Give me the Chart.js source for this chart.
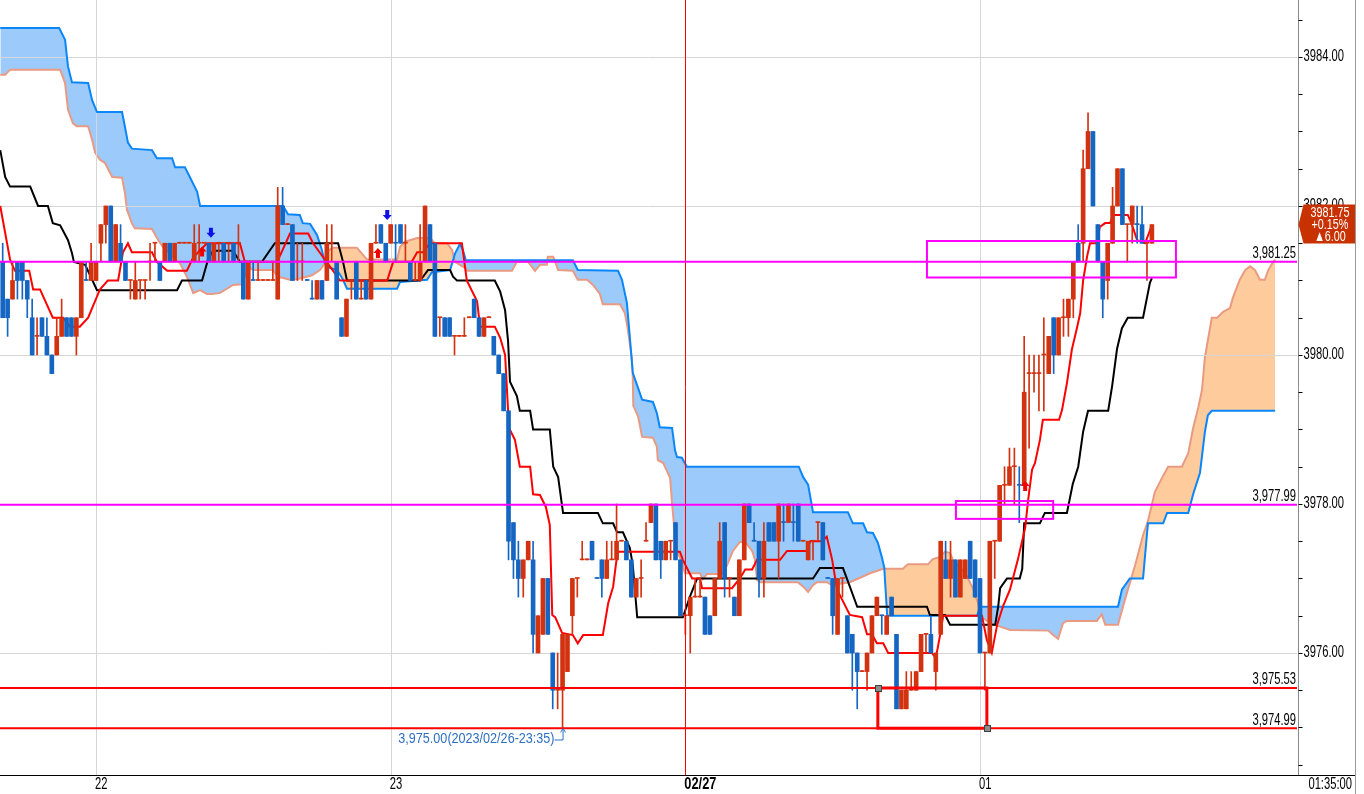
<!DOCTYPE html>
<html>
<head>
<meta charset="utf-8">
<script src="https://cdn.jsdelivr.net/npm/chart.js@4.4.0/dist/chart.umd.min.js"></script>
<style>
html, body { margin: 0; padding: 0; background: #fff; overflow: hidden; }
canvas { display: block; }
</style>
</head>
<body>
<canvas id="chart" width="1364" height="794"></canvas>
<script>
// 1-minute bars, minutes counted from 22:00 (02/26)
const firstMinute = -19;
const opens = [
  3981.25, 3980.75, 3980.75, 3981.25, 3981.25, 3981.0, 3980.5, 3980.25, 3980.5, 3980.25,
  3980.0, 3980.0, 3980.25, 3980.5, 3980.5, 3980.25, 3980.5, 3981.0, 3981.0, 3981.0,
  3981.5, 3981.75, 3982.0, 3981.25, 3981.5, 3981.25, 3981.0, 3980.75, 3981.0, 3981.0,
  3981.25, 3981.5, 3981.25, 3981.25, 3981.5, 3981.25, 3981.5, 3981.5, 3981.5, 3981.25,
  3981.5, 3981.5, 3981.5, 3981.25, 3981.5, 3981.5, 3981.5, 3981.5, 3981.5, 3981.25,
  3980.75, 3981.0, 3981.0, 3981.0, 3981.0, 3981.0, 3980.75, 3982.0, 3981.75, 3981.75,
  3981.25, 3981.25, 3981.0, 3980.75, 3980.75, 3981.0, 3981.0, 3981.5, 3981.25, 3980.5,
  3980.25, 3981.0, 3981.25, 3980.75, 3981.0, 3980.75, 3981.5, 3981.75, 3981.5, 3981.5,
  3981.5, 3981.75, 3981.5, 3981.25, 3981.0, 3981.0, 3981.25, 3981.75, 3981.5, 3980.5,
  3980.5, 3980.5, 3980.25, 3980.25, 3980.25, 3980.5, 3980.75, 3980.5, 3980.25, 3980.5,
  3980.25, 3980.0, 3979.75, 3979.25, 3977.75, 3977.25, 3977.0, 3977.25, 3977.25, 3976.0,
  3976.25, 3977.0, 3976.0, 3975.5, 3975.5, 3975.75, 3976.5, 3977.0, 3977.25, 3977.25,
  3977.5, 3977.0, 3977.25, 3977.0, 3977.25, 3977.25, 3977.5, 3977.5, 3977.25, 3976.75,
  3977.0, 3977.5, 3977.75, 3978.0, 3977.5, 3977.25, 3977.5, 3977.75, 3977.25, 3976.5,
  3976.5, 3976.75, 3976.75, 3976.75, 3976.5, 3976.5, 3977.0, 3977.75, 3977.0, 3976.75,
  3976.5, 3977.25, 3978.0, 3977.5, 3977.5, 3977.0, 3977.75, 3977.75, 3977.5, 3977.75,
  3977.75, 3977.75, 3978.0, 3977.5, 3977.25, 3977.5, 3977.75, 3977.75, 3977.0, 3977.0,
  3976.25, 3977.0, 3976.5, 3976.25, 3976.0, 3975.75, 3975.75, 3976.0, 3976.5, 3976.5,
  3976.25, 3976.75, 3976.25, 3975.25, 3975.25, 3975.5, 3975.5, 3975.75, 3976.25, 3976.25,
  3975.75, 3976.25, 3977.25, 3977.0, 3977.25, 3976.75, 3977.0, 3977.5, 3977.25, 3977.0,
  3976.0, 3976.0, 3977.5, 3977.5, 3978.25, 3978.25, 3978.5, 3978.25, 3978.25, 3979.75,
  3979.75, 3979.75, 3980.0, 3979.75, 3980.5, 3980.0, 3980.5, 3980.5, 3980.75, 3981.5,
  3981.5, 3982.5, 3983.0, 3981.75, 3981.25, 3981.0, 3981.5, 3982.0, 3982.5, 3981.75,
  3981.75, 3981.75, 3981.75, 3981.5, 3981.5
];
const highs = [
  3981.5, 3980.75, 3981.25, 3981.25, 3981.25, 3981.0, 3980.75, 3980.5, 3980.5, 3980.5,
  3980.0, 3980.5, 3980.75, 3980.5, 3980.5, 3980.5, 3981.25, 3981.25, 3981.5, 3981.25,
  3981.75, 3982.0, 3982.0, 3981.75, 3981.75, 3981.25, 3981.0, 3981.25, 3981.0, 3981.0,
  3981.5, 3981.5, 3981.25, 3981.5, 3981.5, 3981.5, 3981.5, 3981.5, 3981.5, 3981.75,
  3981.75, 3981.5, 3981.5, 3981.5, 3981.5, 3981.5, 3981.5, 3981.5, 3981.75, 3981.25,
  3981.25, 3981.25, 3981.25, 3981.0, 3981.0, 3981.25, 3982.25, 3982.25, 3981.75, 3981.75,
  3981.5, 3981.5, 3981.0, 3981.0, 3981.0, 3981.0, 3981.75, 3981.75, 3981.25, 3980.5,
  3980.75, 3981.0, 3981.25, 3981.0, 3981.0, 3981.5, 3981.75, 3981.75, 3981.5, 3981.75,
  3981.75, 3981.75, 3981.75, 3981.25, 3981.25, 3981.75, 3982.0, 3981.75, 3981.5, 3980.5,
  3980.5, 3980.5, 3980.25, 3980.25, 3980.5, 3980.5, 3980.75, 3980.5, 3980.5, 3980.5,
  3980.25, 3980.0, 3979.75, 3979.25, 3977.75, 3977.5, 3977.25, 3977.5, 3977.5, 3976.5,
  3977.0, 3977.0, 3976.0, 3976.0, 3976.25, 3976.25, 3977.0, 3977.0, 3977.5, 3977.25,
  3977.5, 3977.0, 3977.25, 3977.5, 3977.5, 3978.0, 3977.5, 3977.5, 3977.25, 3977.0,
  3977.25, 3977.75, 3978.0, 3978.0, 3977.5, 3977.5, 3977.5, 3977.75, 3977.25, 3976.5,
  3976.75, 3977.0, 3977.0, 3976.75, 3976.5, 3977.0, 3977.75, 3977.75, 3977.0, 3976.75,
  3977.25, 3978.0, 3978.0, 3977.75, 3977.5, 3977.75, 3977.75, 3977.75, 3978.0, 3978.0,
  3978.0, 3978.0, 3978.0, 3977.5, 3977.5, 3977.5, 3977.75, 3977.75, 3977.0, 3977.0,
  3977.0, 3977.0, 3976.5, 3976.25, 3976.0, 3975.75, 3976.0, 3976.5, 3976.75, 3976.5,
  3976.5, 3976.75, 3976.25, 3975.5, 3975.75, 3975.75, 3975.75, 3976.25, 3976.25, 3976.5,
  3976.0, 3977.5, 3977.5, 3977.5, 3977.25, 3977.25, 3977.25, 3977.5, 3977.25, 3977.0,
  3976.0, 3977.5, 3977.5, 3978.25, 3978.5, 3978.75, 3978.75, 3978.5, 3980.25, 3980.0,
  3980.0, 3980.0, 3980.5, 3980.25, 3980.5, 3980.5, 3980.75, 3980.75, 3981.25, 3981.75,
  3982.75, 3983.25, 3983.0, 3981.75, 3981.25, 3981.5, 3982.25, 3982.5, 3982.5, 3981.75,
  3982.0, 3982.0, 3982.0, 3981.5, 3981.75
];
const lows = [
  3980.5, 3980.25, 3980.75, 3980.75, 3980.75, 3980.5, 3980.0, 3980.0, 3980.25, 3980.0,
  3979.75, 3980.0, 3980.25, 3980.25, 3980.25, 3980.0, 3980.5, 3981.0, 3981.0, 3981.0,
  3981.25, 3981.5, 3981.25, 3981.25, 3981.25, 3981.0, 3980.75, 3980.75, 3980.75, 3980.75,
  3981.0, 3981.25, 3981.0, 3981.25, 3981.25, 3981.25, 3981.5, 3981.5, 3981.5, 3981.25,
  3981.25, 3981.5, 3981.25, 3981.25, 3981.25, 3981.25, 3981.25, 3981.25, 3981.25, 3980.75,
  3980.75, 3981.0, 3981.0, 3981.0, 3981.0, 3981.0, 3980.75, 3981.75, 3981.75, 3981.0,
  3981.0, 3981.0, 3981.0, 3980.75, 3980.75, 3980.75, 3981.0, 3981.25, 3980.75, 3980.25,
  3980.25, 3980.75, 3980.75, 3980.75, 3980.75, 3980.75, 3981.5, 3981.5, 3981.25, 3981.5,
  3981.25, 3981.5, 3981.25, 3981.0, 3981.0, 3981.0, 3981.25, 3981.25, 3980.25, 3980.25,
  3980.25, 3980.25, 3980.0, 3980.25, 3980.25, 3980.5, 3980.5, 3980.25, 3980.25, 3980.5,
  3980.0, 3979.75, 3979.25, 3977.25, 3977.0, 3976.75, 3976.75, 3977.25, 3976.0, 3976.0,
  3976.25, 3976.25, 3975.25, 3975.25, 3975.0, 3975.75, 3976.25, 3976.75, 3977.25, 3977.25,
  3977.25, 3977.0, 3976.75, 3977.0, 3977.25, 3977.25, 3977.5, 3977.25, 3976.75, 3976.75,
  3976.75, 3977.5, 3977.75, 3977.25, 3977.0, 3977.25, 3977.25, 3977.25, 3976.5, 3976.25,
  3976.0, 3976.75, 3976.75, 3976.25, 3976.25, 3976.5, 3977.0, 3976.75, 3976.75, 3976.5,
  3976.5, 3977.25, 3977.75, 3977.5, 3976.75, 3976.75, 3977.5, 3977.5, 3977.0, 3977.5,
  3977.75, 3977.5, 3977.5, 3977.5, 3977.25, 3977.25, 3977.5, 3977.25, 3977.0, 3976.25,
  3976.25, 3976.75, 3976.0, 3975.5, 3975.25, 3975.75, 3975.5, 3976.0, 3976.5, 3976.25,
  3976.25, 3976.5, 3975.25, 3975.25, 3975.25, 3975.5, 3975.5, 3975.75, 3976.0, 3976.0,
  3975.5, 3976.25, 3977.0, 3976.75, 3976.75, 3976.75, 3977.0, 3977.0, 3976.75, 3976.0,
  3975.5, 3976.0, 3977.0, 3977.5, 3978.0, 3978.25, 3978.0, 3977.75, 3978.25, 3978.75,
  3979.5, 3979.25, 3979.25, 3979.75, 3979.75, 3980.0, 3980.25, 3980.25, 3980.5, 3981.25,
  3981.25, 3982.5, 3982.0, 3981.25, 3980.5, 3980.75, 3981.5, 3982.0, 3981.75, 3981.25,
  3981.5, 3981.5, 3981.5, 3981.0, 3981.5
];
const closes = [
  3980.5, 3980.5, 3981.0, 3981.0, 3981.0, 3980.75, 3980.0, 3980.25, 3980.25, 3980.0,
  3979.75, 3980.25, 3980.5, 3980.25, 3980.25, 3980.5, 3981.25, 3981.0, 3981.25, 3981.25,
  3981.75, 3982.0, 3981.25, 3981.75, 3981.25, 3981.0, 3981.0, 3981.0, 3981.0, 3981.0,
  3981.25, 3981.5, 3981.0, 3981.5, 3981.25, 3981.5, 3981.5, 3981.5, 3981.5, 3981.5,
  3981.5, 3981.5, 3981.25, 3981.5, 3981.5, 3981.25, 3981.5, 3981.25, 3981.5, 3980.75,
  3981.25, 3981.0, 3981.0, 3981.0, 3981.0, 3981.0, 3982.0, 3981.75, 3981.75, 3981.0,
  3981.25, 3981.25, 3981.0, 3980.75, 3981.0, 3980.75, 3981.5, 3981.5, 3980.75, 3980.25,
  3980.75, 3981.0, 3980.75, 3980.75, 3980.75, 3981.5, 3981.5, 3981.5, 3981.25, 3981.75,
  3981.5, 3981.5, 3981.5, 3981.0, 3981.0, 3981.25, 3982.0, 3981.25, 3980.25, 3980.5,
  3980.25, 3980.25, 3980.25, 3980.25, 3980.25, 3980.5, 3980.5, 3980.25, 3980.5, 3980.5,
  3980.0, 3979.75, 3979.25, 3977.5, 3977.25, 3977.0, 3977.25, 3977.5, 3976.25, 3976.5,
  3977.0, 3976.25, 3975.5, 3975.5, 3976.25, 3976.25, 3977.0, 3977.0, 3977.25, 3977.25,
  3977.25, 3977.0, 3977.0, 3977.25, 3977.25, 3977.5, 3977.5, 3977.25, 3976.75, 3977.0,
  3977.0, 3977.5, 3978.0, 3977.25, 3977.25, 3977.5, 3977.5, 3977.25, 3976.5, 3976.5,
  3976.75, 3976.75, 3976.75, 3976.25, 3976.25, 3977.0, 3977.5, 3977.0, 3977.0, 3976.5,
  3977.25, 3978.0, 3977.75, 3977.5, 3977.0, 3977.5, 3977.5, 3977.5, 3978.0, 3977.75,
  3978.0, 3977.75, 3977.5, 3977.5, 3977.5, 3977.5, 3977.75, 3977.25, 3977.0, 3976.5,
  3977.0, 3977.0, 3976.0, 3976.0, 3975.75, 3975.75, 3976.0, 3976.5, 3976.75, 3976.5,
  3976.5, 3976.5, 3975.25, 3975.5, 3975.5, 3975.5, 3975.75, 3976.25, 3976.25, 3976.0,
  3976.0, 3977.5, 3977.0, 3977.25, 3976.75, 3977.25, 3977.25, 3977.0, 3976.75, 3976.0,
  3976.0, 3977.5, 3977.5, 3978.25, 3978.25, 3978.5, 3978.5, 3978.25, 3979.5, 3979.75,
  3979.75, 3979.75, 3980.0, 3980.25, 3980.0, 3980.5, 3980.5, 3980.75, 3981.25, 3981.25,
  3982.5, 3983.0, 3982.0, 3981.25, 3980.75, 3981.5, 3982.0, 3982.5, 3981.75, 3981.75,
  3982.0, 3981.75, 3981.5, 3981.5, 3981.75
];

// Ichimoku lines as [minute, price] vertices
const tenkanLine = [
  [-19.5,3982.0],[-17.5,3981.28],[-16.5,3981.13],[-13.6,3981.13],[-12.8,3980.88],[-11.4,3980.88],
  [-8.8,3980.5],[-6.7,3980.5],[-5.3,3980.38],[-3.3,3980.38],[-1.6,3980.5],[0.8,3980.88],
  [2.4,3981.0],[4.5,3981.0],[5.5,3981.38],[6.5,3981.5],[7.3,3981.38],[11.4,3981.38],
  [12.4,3981.25],[14.5,3981.13],[18.5,3981.13],[19.8,3981.31],[22.6,3981.5],[29.3,3981.5],
  [30.3,3981.25],[36.9,3981.25],[39.5,3981.63],[43.2,3981.63],[44.2,3981.5],[49.7,3981.0],
  [59.3,3981.0],[60.5,3981.25],[64.3,3981.25],[65.4,3981.38],[66.6,3981.38],[68.0,3981.5],
  [74.5,3981.5],[75.5,3981.0],[77.6,3980.72],[78.2,3980.38],[81.2,3980.38],[82.3,3980.23],
  [83.3,3980.0],[84.1,3979.02],[85.3,3978.86],[86.3,3978.5],[88.4,3978.5],[89.0,3978.13],
  [90.4,3978.12],[91.6,3977.96],[92.4,3977.72],[92.9,3976.51],[93.5,3976.48],[94.9,3976.27],
  [97.1,3976.24],[98.1,3976.13],[99.2,3976.24],[103.2,3976.24],[104.3,3976.67],[105.3,3976.89],
  [105.9,3977.21],[106.3,3977.36],[118.9,3977.36],[119.5,3977.25],[121.4,3977.0],[123.0,3977.0],
  [123.4,3976.87],[129.5,3976.87],[131.1,3977.0],[132.2,3977.12],[133.6,3977.12],[134.6,3977.25],
  [139.3,3977.25],[140.7,3977.37],[144.8,3977.37],[145.4,3977.5],[147.8,3977.5],[148.8,3977.56],
  [149.9,3977.25],[150.9,3976.85],[153.5,3976.51],[156.0,3976.48],[157.0,3976.25],[158.0,3976.25],
  [159.0,3976.13],[160.3,3976.13],[161.3,3976.0],[170.2,3976.0],[170.8,3975.95],[171.2,3976.0],
  [171.9,3976.25],[172.5,3976.5],[180.4,3976.5],[181.4,3976.17],[182.4,3976.0],[183.5,3976.38],
  [184.7,3976.63],[186.1,3976.85],[187.7,3977.25],[189.2,3977.68],[189.8,3978.05],[190.6,3978.46],
  [191.2,3978.55],[192.2,3978.86],[192.8,3979.13],[196.1,3979.13],[196.7,3979.26],[197.7,3979.62],
  [198.7,3980.07],[199.8,3980.38],[200.4,3980.56],[201.0,3981.0],[201.8,3981.32],[202.4,3981.5],
  [203.8,3981.5],[204.4,3981.72],[205.5,3981.77],[206.5,3981.77],[207.1,3981.88],[210.1,3981.88],
  [211.0,3981.74],[212.0,3981.54],[213.6,3981.5],[215.0,3981.74]
];
const kijunLine = [
  [-19.5,3982.75],[-18.5,3982.39],[-17.5,3982.26],[-13.4,3982.26],[-11.8,3982.0],[-9.8,3982.0],
  [-8.8,3981.77],[-7.3,3981.74],[-5.7,3981.54],[-4.9,3981.37],[-4.5,3981.25],[-2.2,3981.21],
  [0.2,3980.87],[16.5,3980.87],[17.5,3981.0],[21.6,3981.0],[22.8,3981.28],[23.8,3981.4],
  [27.9,3981.4],[29.3,3981.25],[33.8,3981.25],[36.4,3981.5],[49.3,3981.5],[50.3,3981.25],
  [51.1,3981.0],[66.0,3981.0],[66.6,3981.05],[67.6,3981.14],[72.1,3981.14],[72.7,3981.05],
  [73.5,3981.0],[81.2,3981.0],[82.3,3980.85],[83.3,3980.6],[83.9,3980.19],[84.3,3979.64],
  [85.7,3979.45],[86.3,3979.25],[88.4,3979.25],[89.0,3979.0],[92.4,3979.0],[93.1,3978.5],
  [94.1,3978.36],[95.1,3977.88],[102.2,3977.88],[103.2,3977.74],[105.3,3977.74],[106.1,3977.62],
  [107.3,3977.62],[108.7,3977.41],[109.3,3977.18],[110.2,3976.48],[119.5,3976.48],[120.9,3976.75],
  [122.4,3977.0],[146.0,3977.0],[147.4,3977.14],[152.1,3977.14],[153.5,3976.89],[155.0,3976.62],
  [169.2,3976.62],[169.8,3976.51],[172.9,3976.51],[173.9,3976.38],[183.1,3976.38],[183.7,3976.62],
  [184.1,3976.87],[185.5,3977.0],[188.1,3977.0],[188.6,3977.13],[189.0,3977.74],[192.2,3977.74],
  [193.2,3977.88],[197.7,3977.88],[198.9,3978.27],[200.0,3978.5],[201.0,3978.97],[202.0,3979.25],
  [206.1,3979.25],[206.9,3979.58],[207.9,3980.08],[208.9,3980.36],[210.1,3980.5],[213.2,3980.5],
  [214.6,3980.97],[215.0,3981.03]
];
const spanBlue = [
  [-19.5,3984.39],[-7.5,3984.39],[-6.3,3984.23],[-5.7,3983.87],[-4.9,3983.66],[-1.6,3983.65],
  [-0.8,3983.42],[0.2,3983.26],[5.3,3983.26],[5.9,3983.06],[6.5,3982.85],[7.3,3982.77],
  [11.4,3982.75],[12.4,3982.64],[15.5,3982.64],[16.1,3982.52],[18.1,3982.52],[19.1,3982.39],
  [20.6,3982.19],[21.2,3982.0],[38.1,3982.0],[39.1,3981.89],[41.5,3981.88],[42.1,3981.77],
  [43.6,3981.76],[45.0,3981.61],[46.0,3981.41],[46.6,3981.23],[47.6,3981.17],[49.1,3981.14],
  [50.3,3981.01],[51.1,3980.89],[61.3,3980.89],[61.9,3980.98],[67.4,3981.01],[68.4,3981.11],
  [72.1,3981.14],[73.1,3981.36],[74.1,3981.49],[74.7,3981.41],[75.3,3981.27],[97.1,3981.27],
  [98.1,3981.14],[106.3,3981.13],[107.1,3981.01],[108.1,3980.7],[108.7,3980.24],[109.3,3979.76],
  [111.2,3979.4],[113.4,3979.37],[114.2,3979.22],[114.8,3979.03],[117.3,3979.02],[117.9,3978.72],
  [118.3,3978.63],[119.3,3978.62],[120.3,3978.5],[143.1,3978.5],[144.0,3978.36],[145.0,3978.26],
  [146.0,3977.89],[153.1,3977.89],[154.1,3977.74],[156.2,3977.74],[157.0,3977.62],[158.2,3977.61],
  [159.2,3977.48],[160.0,3977.29],[160.5,3977.15],[161.1,3976.5],[179.4,3976.5],[180.0,3976.62],
  [208.1,3976.62],[208.9,3976.85],[210.5,3977.0],[213.2,3977.0],[213.6,3977.3],[214.2,3977.74],
  [217.3,3977.74],[218.1,3977.88],[222.4,3977.88],[223.4,3978.13],[224.8,3978.42],[225.8,3978.97],
  [226.4,3979.19],[227.2,3979.25],[240.1,3979.25]
];
const spanSalmon = [
  [-19.5,3983.76],[-18.5,3983.76],[-17.5,3983.83],[-7.3,3983.83],[-6.3,3983.65],[-5.7,3983.29],
  [-4.7,3983.11],[-3.9,3983.07],[-1.6,3983.07],[-0.8,3982.89],[-0.2,3982.72],[0.8,3982.62],
  [1.8,3982.58],[3.3,3982.39],[5.3,3982.38],[5.9,3982.17],[6.3,3981.95],[7.3,3981.77],
  [7.9,3981.7],[11.4,3981.69],[12.4,3981.57],[13.6,3981.45],[15.7,3981.32],[17.1,3981.23],
  [18.5,3981.05],[19.8,3980.83],[21.2,3980.87],[22.6,3980.82],[23.6,3980.82],[25.2,3980.83],
  [27.9,3980.94],[29.7,3980.95],[31.0,3981.18],[32.0,3981.14],[36.0,3981.14],[37.1,3981.05],
  [39.5,3981.01],[41.1,3981.02],[44.0,3981.07],[45.6,3981.14],[46.6,3981.23],[47.0,3981.38],
  [48.1,3981.44],[53.1,3981.44],[55.2,3981.28],[61.3,3981.28],[61.9,3981.45],[62.9,3981.52],
  [65.4,3981.57],[68.0,3981.57],[69.0,3981.5],[71.5,3981.5],[72.5,3981.41],[73.1,3981.25],
  [75.1,3981.17],[75.5,3981.13],[84.7,3981.13],[85.7,3981.25],[88.0,3981.25],[88.8,3981.18],
  [89.4,3981.13],[90.4,3981.21],[91.8,3981.21],[92.0,3981.32],[93.1,3981.32],[94.1,3981.14],
  [97.1,3981.13],[98.1,3981.01],[100.0,3981.01],[101.2,3980.94],[102.6,3980.82],[103.2,3980.68],
  [106.7,3980.68],[107.7,3980.56],[108.3,3980.34],[109.1,3979.96],[109.3,3979.7],[109.4,3979.32],
  [110.4,3979.17],[111.2,3978.9],[113.4,3978.89],[114.2,3978.77],[114.4,3978.59],[115.5,3978.55],
  [116.9,3978.35],[117.3,3978.01],[117.9,3977.56],[118.3,3977.37],[119.3,3977.22],[119.9,3977.07],
  [123.0,3977.07],[123.6,3976.99],[124.4,3977.06],[127.7,3977.06],[128.5,3977.18],[129.7,3977.37],
  [131.1,3977.49],[132.2,3977.49],[133.6,3977.37],[134.2,3977.25],[134.6,3976.98],[135.2,3976.95],
  [142.9,3976.95],[144.0,3976.89],[145.0,3976.82],[146.0,3976.91],[146.8,3976.95],[148.8,3976.95],
  [149.9,3976.91],[151.5,3976.93],[153.5,3976.95],[155.6,3977.01],[157.6,3977.07],[160.3,3977.13],
  [164.3,3977.13],[165.3,3977.19],[169.4,3977.19],[170.4,3977.26],[171.9,3977.29],[172.9,3977.36],
  [173.9,3977.34],[174.5,3977.25],[177.0,3977.07],[178.4,3976.89],[179.4,3976.71],[180.4,3976.48],
  [182.0,3976.4],[184.7,3976.34],[186.1,3976.31],[193.9,3976.3],[194.9,3976.24],[195.9,3976.19],
  [196.9,3976.4],[197.7,3976.43],[203.8,3976.43],[204.8,3976.52],[205.5,3976.38],[208.1,3976.38],
  [209.5,3976.71],[211.6,3977.18],[213.2,3977.58],[214.2,3977.77],[215.6,3978.16],[217.3,3978.38],
  [218.3,3978.5],[221.1,3978.5],[222.4,3978.68],[223.4,3979.02],[224.4,3979.28],[225.2,3979.53],
  [225.8,3979.97],[227.2,3980.5],[228.3,3980.5],[229.5,3980.58],[230.9,3980.63],[231.5,3980.77],
  [232.9,3981.01],[234.0,3981.14],[235.0,3981.19],[236.0,3981.14],[237.0,3981.01],[238.0,3981.01],
  [238.7,3981.14],[239.7,3981.25],[240.1,3981.28]
];

// drawn objects
const magentaLevels = [3981.25, 3977.99];
const redLevels = [3975.53, 3974.99];
const magentaBoxes = [[169.2, 3981.53, 219.9, 3981.04], [175.1, 3978.04, 194.9, 3977.80]];
const redBox = [159.2, 3975.53, 181.4, 3974.99];
const upSignals = [[21.6, 3981.39], [57.4, 3981.37], [189.2, 3978.24]];
const downSignals = [[23.4, 3981.64], [59.3, 3981.88]];
const lowNote = { minute: 95, price: 3975.0, text: '3,975.00(2023/02/26-23:35)' };

// axes
const priceTicks = [3976, 3978, 3980, 3982, 3984];
const minorStep = 0.5;
const timeTicks = [0, 60, 120, 180];
const timeLabels = ['22', '23', '02/27', '01'];
const dayBreak = 120;
const cursorTime = '01:35:00';
const prevDayClose = 3975.75;

const upColor = '#d2320f', downColor = '#1565c2';
const minutes = opens.map((_, i) => firstMinute + i);
const candleColors = closes.map((c, i) => {
    const o = opens[i];
    if (c > o) return upColor;
    if (c < o) return downColor;
    const p = i > 0 ? closes[i - 1] : o;
    return c >= p ? upColor : downColor;
});
const pts = arr => arr.map(([x, y]) => ({ x, y }));
const FONT = '"Liberation Sans", Arial, sans-serif';

function text(ctx, s, x, y, align, size, color, squeeze, bold) {
    ctx.save();
    ctx.font = (bold ? 'bold ' : '') + size + 'px ' + FONT;
    ctx.fillStyle = color;
    ctx.textBaseline = 'middle';
    ctx.textAlign = 'left';
    const w = ctx.measureText(s).width * squeeze;
    const left = align === 'right' ? x - w : align === 'center' ? x - w / 2 : x;
    ctx.translate(left, y);
    ctx.scale(squeeze, 1);
    ctx.fillText(s, 0, 0);
    ctx.restore();
}

function arrow(ctx, x, y, up, color) {
    const d = up ? -1 : 1;
    ctx.fillStyle = color;
    ctx.beginPath();
    ctx.moveTo(x, y + d * 5);
    ctx.lineTo(x + 4.5, y);
    ctx.lineTo(x + 2, y);
    ctx.lineTo(x + 2, y - d * 5);
    ctx.lineTo(x - 2, y - d * 5);
    ctx.lineTo(x - 2, y);
    ctx.lineTo(x - 4.5, y);
    ctx.closePath();
    ctx.fill();
}

const gridPlugin = {
    id: 'grid',
    afterDatasetDraw(chart, args) {
        if (args.index !== 5) return;
        const { ctx, chartArea: a, scales: { x, y } } = chart;
        ctx.save();
        ctx.strokeStyle = '#d6d6d6';
        ctx.lineWidth = 1;
        priceTicks.forEach(v => {
            const py = Math.round(y.getPixelForValue(v)) + 0.5;
            ctx.beginPath(); ctx.moveTo(a.left, py); ctx.lineTo(a.right, py); ctx.stroke();
        });
        timeTicks.forEach(m => {
            if (m === dayBreak) return;
            const px = Math.round(x.getPixelForValue(m)) + 0.5;
            ctx.beginPath(); ctx.moveTo(px, a.top); ctx.lineTo(px, a.bottom); ctx.stroke();
        });
        ctx.restore();
    }
};

const overlayPlugin = {
    id: 'overlay',
    afterDatasetsDraw(chart) {
        const { ctx, chartArea: a, scales: { x, y } } = chart;
        const X = v => x.getPixelForValue(v), Y = v => y.getPixelForValue(v);
        ctx.save();
        ctx.beginPath(); ctx.rect(a.left, a.top, a.right - a.left, a.bottom - a.top); ctx.clip();

        // day separator
        const bx = Math.round(X(dayBreak)) + 0.5;
        ctx.strokeStyle = '#ff0000'; ctx.lineWidth = 1;
        ctx.beginPath(); ctx.moveTo(bx, a.top); ctx.lineTo(bx, a.bottom); ctx.stroke();

        const level = (v, color) => {
            const py = Y(v);
            ctx.strokeStyle = color; ctx.lineWidth = 2;
            ctx.beginPath(); ctx.moveTo(a.left, py); ctx.lineTo(a.right, py); ctx.stroke();
            const s = v.toLocaleString('en-US', { minimumFractionDigits: 2, maximumFractionDigits: 2 });
            text(ctx, s, a.right - 1, py - 8, 'right', 16, '#000', 0.7);
        };
        magentaLevels.forEach(v => level(v, '#ff00ff'));
        redLevels.forEach(v => level(v, '#ff0000'));

        ctx.strokeStyle = '#ff00ff'; ctx.lineWidth = 2;
        magentaBoxes.forEach(([m0, p0, m1, p1]) => {
            ctx.strokeRect(X(m0), Y(p0), X(m1) - X(m0), Y(p1) - Y(p0));
        });

        const [r0, rp0, r1, rp1] = redBox;
        ctx.strokeStyle = '#ff0000'; ctx.lineWidth = 3;
        ctx.strokeRect(X(r0), Y(rp0), X(r1) - X(r0), Y(rp1) - Y(rp0));
        ctx.fillStyle = '#8c8c8c'; ctx.strokeStyle = '#404040'; ctx.lineWidth = 1;
        [[r0, rp0], [r1, rp1]].forEach(([m, p]) => {
            const px = Math.round(X(m)), py = Math.round(Y(p));
            ctx.fillRect(px - 3, py - 3, 6, 6);
            ctx.strokeRect(px - 2.5, py - 2.5, 6, 6);
        });

        upSignals.forEach(([m, p]) => arrow(ctx, X(m), Y(p), true, '#f00000'));
        downSignals.forEach(([m, p]) => arrow(ctx, X(m), Y(p), false, '#1010e8'));

        // lowest price note
        const nx = X(lowNote.minute), ny = Y(lowNote.price);
        ctx.strokeStyle = '#2f6fc0'; ctx.lineWidth = 1;
        ctx.beginPath();
        ctx.moveTo(nx - 8, ny + 12.5); ctx.lineTo(nx + 0.5, ny + 12.5); ctx.lineTo(nx + 0.5, ny + 2);
        ctx.stroke();
        ctx.beginPath(); ctx.moveTo(nx - 2, ny + 5); ctx.lineTo(nx + 0.5, ny + 1); ctx.lineTo(nx + 3, ny + 5); ctx.stroke();
        text(ctx, lowNote.text, nx - 8, ny + 12, 'right', 14, '#2f6fc0', 0.9);
        ctx.restore();
    },
    afterDraw(chart) {
        const { ctx, chartArea: a, scales: { x, y } } = chart;
        const Y = v => y.getPixelForValue(v);
        ctx.save();
        const axisX = a.right + 1.5;
        ctx.strokeStyle = '#8a8a8a'; ctx.lineWidth = 1;
        ctx.beginPath(); ctx.moveTo(axisX, 0); ctx.lineTo(axisX, a.bottom); ctx.stroke();
        ctx.strokeStyle = '#000';
        ctx.beginPath(); ctx.moveTo(0, a.bottom + 0.5); ctx.lineTo(1356, a.bottom + 0.5); ctx.stroke();
        ctx.strokeStyle = '#9a9a9a';
        ctx.beginPath(); ctx.moveTo(1355.5, 0); ctx.lineTo(1355.5, 794); ctx.stroke();

        // minor ticks every 0.5
        ctx.strokeStyle = '#000';
        for (let v = Math.ceil(y.min / minorStep) * minorStep; v <= y.max; v += minorStep) {
            const py = Math.round(Y(v)) + 0.5;
            ctx.beginPath(); ctx.moveTo(axisX, py); ctx.lineTo(axisX + 4, py); ctx.stroke();
        }
        priceTicks.forEach(v => text(ctx, v.toFixed(2), axisX + 5, Y(v), 'left', 16, '#000', 0.7));

        // last price tag
        const last = closes[closes.length - 1];
        const chg = last - prevDayClose;
        const ty = Y(last);
        ctx.fillStyle = '#c83200';
        ctx.beginPath();
        ctx.moveTo(axisX, ty);
        ctx.lineTo(axisX + 5, ty - 20);
        ctx.lineTo(1355, ty - 20);
        ctx.lineTo(1355, ty + 19);
        ctx.lineTo(axisX + 5, ty + 19);
        ctx.closePath();
        ctx.fill();
        text(ctx, last.toFixed(2), 1330, ty - 12, 'center', 15, '#fff', 0.72);
        text(ctx, '+' + (chg / prevDayClose * 100).toFixed(2) + '%', 1330, ty, 'center', 15, '#fff', 0.72);
        text(ctx, '\u25B2' + chg.toFixed(2), 1330, ty + 12, 'center', 15, '#fff', 0.72);

        // time axis
        timeTicks.forEach((m, i) => {
            const bold = m === dayBreak;
            text(ctx, timeLabels[i], x.getPixelForValue(m) - 1, a.bottom + 10, 'left', 16, '#000', bold ? 0.8 : 0.7, bold);
        });
        text(ctx, cursorTime, 1352, a.bottom + 10, 'right', 16, '#000', 0.7);
        ctx.restore();
    }
};

new Chart(document.getElementById('chart'), {
    type: 'bar',
    data: {
        datasets: [
            {
                label: 'body',
                data: minutes.map((m, i) => ({ x: m, y: [opens[i], closes[i]] })),
                backgroundColor: candleColors,
                borderWidth: 0,
                barThickness: 4,
                minBarLength: 1,
                grouped: false,
                order: 0
            },
            {
                label: 'wick',
                data: minutes.map((m, i) => ({ x: m, y: [lows[i], highs[i]] })),
                backgroundColor: candleColors,
                borderWidth: 0,
                barThickness: 1,
                minBarLength: 1,
                grouped: false,
                order: 1
            },
            {
                type: 'line', label: 'tenkan', data: pts(tenkanLine),
                borderColor: '#ff0000', borderWidth: 2, pointRadius: 0, tension: 0, fill: false, order: 2
            },
            {
                type: 'line', label: 'kijun', data: pts(kijunLine),
                borderColor: '#000000', borderWidth: 2, pointRadius: 0, tension: 0, fill: false, order: 3
            },
            {
                type: 'line', label: 'spanBlue', data: pts(spanBlue),
                borderColor: '#0a86f8', borderWidth: 2, pointRadius: 0, tension: 0, fill: false, order: 4
            },
            {
                type: 'line', label: 'spanSalmon', data: pts(spanSalmon),
                borderColor: '#e99a82', borderWidth: 2, pointRadius: 0, tension: 0,
                fill: { target: 4, above: '#fecc9c', below: '#9ccbfb' },
                order: 5
            }
        ]
    },
    options: {
        responsive: false,
        animation: false,
        devicePixelRatio: 1,
        layout: { padding: { left: 0, top: 0, right: 67, bottom: 19 } },
        plugins: { legend: { display: false }, tooltip: { enabled: false } },
        scales: {
            x: { type: 'linear', display: false, min: -19.55, max: 244.55, offset: false },
            y: { type: 'linear', display: false, min: 3974.362, max: 3984.765 }
        }
    },
    plugins: [gridPlugin, overlayPlugin]
});
</script>
</body>
</html>
